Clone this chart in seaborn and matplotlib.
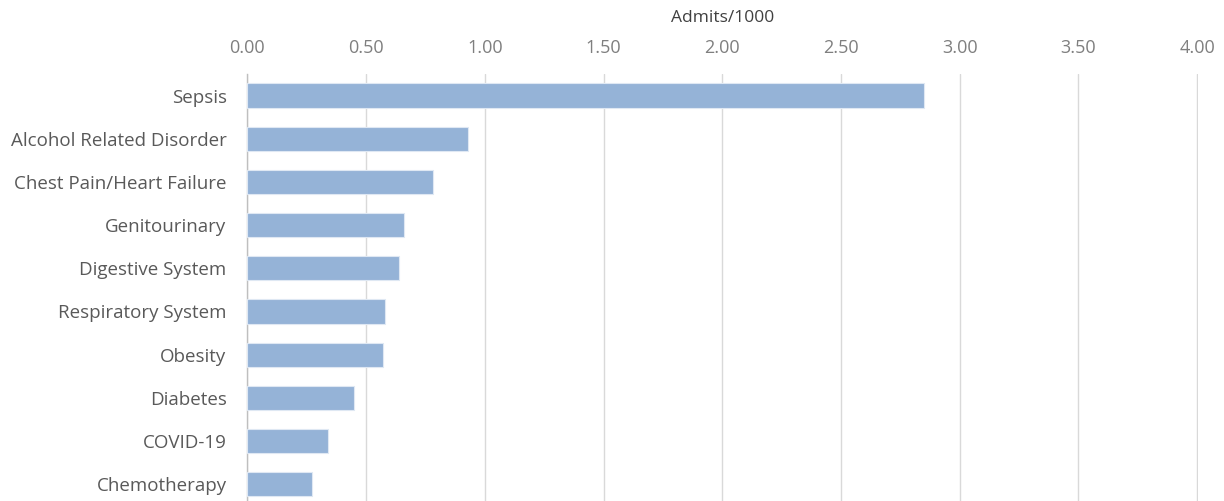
import matplotlib
matplotlib.use("Agg")
import matplotlib.pyplot as plt
import seaborn as sns
import pandas as pd

categories = ["Sepsis", "Alcohol Related Disorder", "Chest Pain/Heart Failure",
              "Genitourinary", "Digestive System", "Respiratory System",
              "Obesity", "Diabetes", "COVID-19", "Chemotherapy"]
admits = [2.85, 0.93, 0.78, 0.66, 0.64, 0.58, 0.57, 0.45, 0.34, 0.27]
xticks = [0.0, 0.5, 1.0, 1.5, 2.0, 2.5, 3.0, 3.5, 4.0]
xlabel = "Admits/1000"

df = pd.DataFrame({"category": categories, "value": admits})

sns.set_theme(style="white")
plt.rcParams["font.family"] = ["Open Sans", "DejaVu Sans"]

fig = plt.figure(figsize=(12.24, 5.01), dpi=100)
ax = fig.add_axes([247.4 / 1224, 0.0, (1197.8 - 247.4) / 1224, (501 - 74) / 501])

sns.barplot(data=df, x="value", y="category", orient="h", color="#95B3D7",
            saturation=1, width=0.56, ax=ax, edgecolor="#dfe8f3", linewidth=0.8, zorder=3)

ax.set_xlim(0, 4.003)
ax.set_ylim(9.39, -0.5)
ax.set_xticks(xticks)
ax.set_xticklabels([f"{t:.2f}" for t in xticks])
ax.xaxis.tick_top()
ax.xaxis.set_label_position("top")
ax.set_xlabel(xlabel, fontsize=12.5, color="#404040", labelpad=12)
ax.set_ylabel("")
ax.tick_params(axis="x", length=0, pad=12.5, labelsize=13, colors="#7f7f7f")
ax.tick_params(axis="y", length=0, pad=15, labelsize=13.5, colors="#595959")
ax.grid(axis="x", color="#d9d9d9", linewidth=1.0, zorder=0)
ax.grid(axis="y", visible=False)
for s in ["top", "right", "bottom"]:
    ax.spines[s].set_visible(False)
ax.spines["left"].set_color("#bfbfbf")
ax.spines["left"].set_linewidth(1.0)

fig.savefig("out.png", dpi=100)
